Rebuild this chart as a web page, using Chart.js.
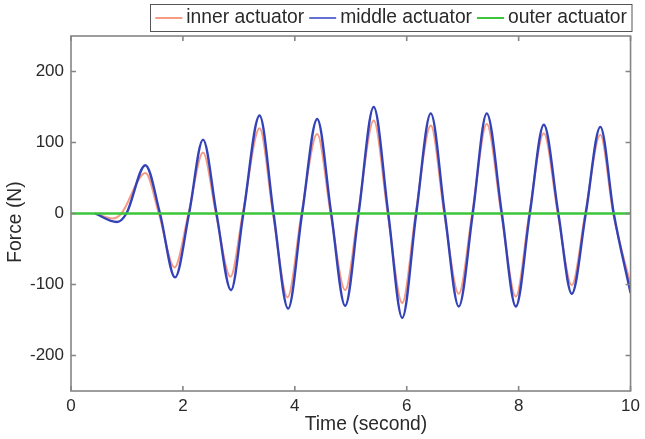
<!DOCTYPE html>
<html><head><meta charset="utf-8">
<script src="https://cdn.jsdelivr.net/npm/chart.js@4.4.1/dist/chart.umd.min.js"></script>
<style>html,body{margin:0;padding:0;background:#fff}#wrap{width:645px;height:439px}</style>
</head><body><div id="wrap"><canvas id="c" width="645" height="439"></canvas></div>
<script>
// ---- data ----
const seriesNames = ['inner actuator', 'middle actuator', 'outer actuator'];
const innerTimes  = [0.43,0.75,0.90,1.33,1.57,1.85,2.10,2.36,2.59,2.85,3.07,3.37,3.61,3.87,4.12,4.40,4.64,4.90,5.13,5.41,5.66,5.92,6.16,6.43,6.67,6.93,7.17,7.43,7.69,7.95,8.19,8.45,8.70,8.95,9.19,9.46,9.69,10.0];
const innerForce  = [0,-7,0,57,0,-76,0,86,0,-89,0,120,0,-118,0,112,0,-108,0,131,0,-126,0,124,0,-113,0,126,0,-117,0,113,0,-101,0,111,0,-100];
const middleTimes = [0.43,0.82,0.99,1.33,1.59,1.86,2.11,2.36,2.60,2.86,3.08,3.37,3.62,3.88,4.13,4.40,4.65,4.90,5.14,5.41,5.67,5.92,6.17,6.43,6.68,6.93,7.18,7.43,7.70,7.95,8.20,8.45,8.71,8.95,9.20,9.46,9.70,10.0];
const middleForce = [0,-12,0,68,0,-90,0,104,0,-108,0,138,0,-134,0,133,0,-130,0,150,0,-147,0,141,0,-131,0,141,0,-131,0,125,0,-113,0,122,0,-112];
const outerTimes  = [0, 10];
const outerForce  = [0, 0];
const xTicks = [0, 2, 4, 6, 8, 10];
const yTicks = [-200, -100, 0, 100, 200];
const xTitle = 'Time (second)';
const yTitle = 'Force (N)';

const colors = ['#f59a84', '#3442b8', '#3cc43a'];
const legendColors = ['#f59a84', '#6470d4', '#3cc43a'];
const FONT = '"Liberation Sans", Arial, sans-serif';
const TEXT = '#2a2a2a';
const AXIS = '#858585';

const pts = (t, v) => t.map((x, i) => ({x, y: v[i]}));

const framePlugin = {
  id: 'frame',
  afterDatasetsDraw(chart) {
    const {ctx, chartArea: a, scales} = chart;
    ctx.save();
    ctx.strokeStyle = AXIS;
    ctx.lineWidth = 1.6;
    ctx.strokeRect(a.left, a.top, a.right - a.left, a.bottom - a.top);
    ctx.beginPath();
    const L = 5;
    xTicks.forEach(v => {
      const x = scales.x.getPixelForValue(v);
      ctx.moveTo(x, a.bottom); ctx.lineTo(x, a.bottom - L);
      ctx.moveTo(x, a.top); ctx.lineTo(x, a.top + L);
    });
    yTicks.forEach(v => {
      const y = scales.y.getPixelForValue(v);
      ctx.moveTo(a.left, y); ctx.lineTo(a.left + L, y);
      ctx.moveTo(a.right, y); ctx.lineTo(a.right - L, y);
    });
    ctx.stroke();

    // axis titles
    ctx.fillStyle = TEXT;
    ctx.font = '19.3px ' + FONT;
    ctx.textAlign = 'center';
    ctx.textBaseline = 'middle';
    ctx.fillText(xTitle, 366, 425);
    ctx.save();
    ctx.translate(16, 222);
    ctx.rotate(-Math.PI / 2);
    ctx.fillText(yTitle, 0, 0);
    ctx.restore();

    // legend (laid out right to left)
    ctx.font = '19.3px ' + FONT;
    ctx.textAlign = 'left';
    ctx.textBaseline = 'middle';
    const ly = 18;
    let right = 627;
    const layout = [];
    for (let i = seriesNames.length - 1; i >= 0; i--) {
      const w = ctx.measureText(seriesNames[i]).width;
      const tx = right - w;
      const l1 = tx - 4, l0 = l1 - 27;
      layout[i] = {tx, l0, l1};
      right = l0 - 5;
    }
    const bx = Math.round(layout[0].l0 - 5) + 0.5, by = 4.5;
    const bw = 632 - bx, bh = 27;
    ctx.fillStyle = '#fff';
    ctx.fillRect(bx, by, bw, bh);
    ctx.strokeStyle = '#555';
    ctx.lineWidth = 1;
    ctx.strokeRect(bx, by, bw, bh);
    seriesNames.forEach((name, i) => {
      const p = layout[i];
      ctx.strokeStyle = legendColors[i];
      ctx.lineWidth = 2;
      ctx.beginPath(); ctx.moveTo(p.l0, ly); ctx.lineTo(p.l1, ly); ctx.stroke();
      ctx.fillStyle = TEXT;
      ctx.fillText(name, p.tx, ly);
    });
    ctx.restore();
  }
};

new Chart(document.getElementById('c'), {
  type: 'line',
  data: {
    datasets: [
      {label: seriesNames[0], data: pts(innerTimes, innerForce), borderColor: colors[0], borderWidth: 2, order: 2, cubicInterpolationMode: 'monotone'},
      {label: seriesNames[1], data: pts(middleTimes, middleForce), borderColor: colors[1], borderWidth: 2.4, order: 1, cubicInterpolationMode: 'monotone'},
      {label: seriesNames[2], data: pts(outerTimes, outerForce), borderColor: colors[2], borderWidth: 2.6, order: 0}
    ]
  },
  options: {
    responsive: false,
    animation: false,
    devicePixelRatio: 1,
    elements: {point: {radius: 0}},
    layout: {padding: {left: 0, right: 10, top: 36, bottom: 0}},
    plugins: {legend: {display: false}, tooltip: {enabled: false}},
    scales: {
      x: {
        type: 'linear', min: 0, max: 10,
        afterBuildTicks: s => { s.ticks = xTicks.map(v => ({value: v})); },
        afterFit: s => { s.height = 48; },
        grid: {display: false, drawTicks: false},
        border: {display: false},
        ticks: {color: TEXT, font: {family: FONT, size: 17}, padding: 5, maxRotation: 0, autoSkip: false}
      },
      y: {
        type: 'linear', min: -250, max: 250,
        afterBuildTicks: s => { s.ticks = yTicks.map(v => ({value: v})); },
        afterFit: s => { s.width = 71; },
        grid: {display: false, drawTicks: false},
        border: {display: false},
        ticks: {color: TEXT, font: {family: FONT, size: 17}, padding: 7, autoSkip: false}
      }
    }
  },
  plugins: [framePlugin]
});
</script>
</body></html>
